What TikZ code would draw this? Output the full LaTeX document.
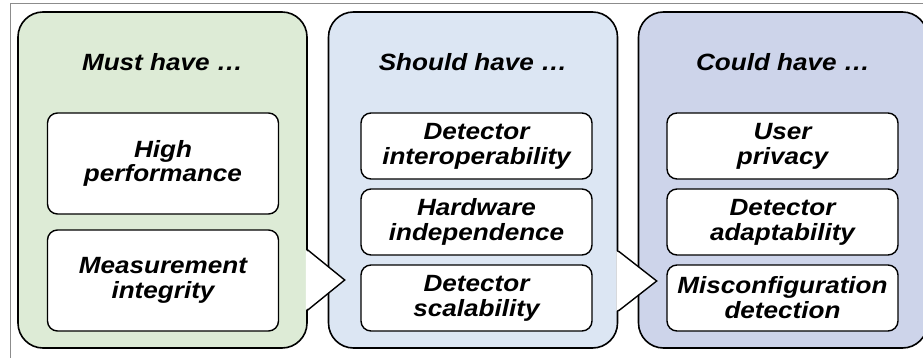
\documentclass[tikz,border=0pt]{standalone}
\usepackage{fontspec}
\setmainfont[FakeStretch=1.11]{Liberation Sans}
\usetikzlibrary{calc}
\definecolor{mustfill}{HTML}{DDEBD6}
\definecolor{shouldfill}{HTML}{DCE6F3}
\definecolor{couldfill}{HTML}{CDD4EA}
\definecolor{framegray}{HTML}{8C8C8C}
\tikzset{
  panel/.style={draw=black, line width=1.6pt, rounded corners=25pt,
    minimum width=289pt, minimum height=336pt, inner sep=0pt},
  item/.style={draw=black, fill=white, line width=1.4pt, rounded corners=10pt,
    minimum width=231pt, align=center, inner sep=0pt,
    font=\fontsize{23.5}{24.8}\selectfont\bfseries\itshape},
  tallitem/.style={item, minimum height=101pt},
  shortitem/.style={item, minimum height=66pt},
  heading/.style={font=\fontsize{23.5}{26}\selectfont\bfseries\itshape, inner sep=0pt},
  chevron/.style={draw=black, line width=1.4pt, line join=miter},
  frameline/.style={draw=framegray, line width=0.9pt},
}
\begin{document}
\begin{tikzpicture}[x=1pt, y=-1pt]
\useasboundingbox (0,0) rectangle (923,358);
% thin outer frame
\draw[frameline] (10,358) -- (10,3) -- (923,3);

% the three priority panels
\node[panel, fill=mustfill]   (p1) at (162.5,180) {};
\node[panel, fill=shouldfill] (p2) at (473,180) {};
\node[panel, fill=couldfill]  (p3) at (783,180) {};

% headings
\node[heading, anchor=base] (h1) at (162.5,71) {Must have …};
\node[heading, anchor=base] (h2) at (473,71) {Should have …};
\node[heading, anchor=base] (h3) at (783,71) {Could have …};

% Must have
\node[tallitem] (m1) at (163,163.5) {High\\performance};
\node[tallitem] (m2) at (163,280.5) {Measurement\\integrity};

% Should have
\node[shortitem] (s1) at (476.5,146) {Detector\\interoperability};
\node[shortitem] (s2) at (476.5,222) {Hardware\\independence};
\node[shortitem] (s3) at (476.5,298) {Detector\\scalability};

% Could have
\node[shortitem] (c1) at (782.5,146) {User\\privacy};
\node[shortitem] (c2) at (782.5,222) {Detector\\adaptability};
\node[shortitem] (c3) at (782.5,298) {Misconfiguration\\detection};

% chevrons between the panels
\coordinate (a1s) at ($(p1.east)+(0,70)$);
\coordinate (a1t) at ($(p2.west)+(17,100)$);
\coordinate (a1e) at ($(p1.east)+(0,130)$);
\fill[white] ($(a1s)+(-2,0)$) -- (a1t) -- ($(a1e)+(-2,0)$) -- cycle;
\draw[chevron] (a1s) -- (a1t) -- (a1e);

\coordinate (a2s) at ($(p2.east)+(0,71)$);
\coordinate (a2t) at ($(p3.west)+(19,101)$);
\coordinate (a2e) at ($(p2.east)+(0,131)$);
\fill[white] ($(a2s)+(-2,0)$) -- (a2t) -- ($(a2e)+(-2,0)$) -- cycle;
\draw[chevron] (a2s) -- (a2t) -- (a2e);
\end{tikzpicture}
\end{document}
